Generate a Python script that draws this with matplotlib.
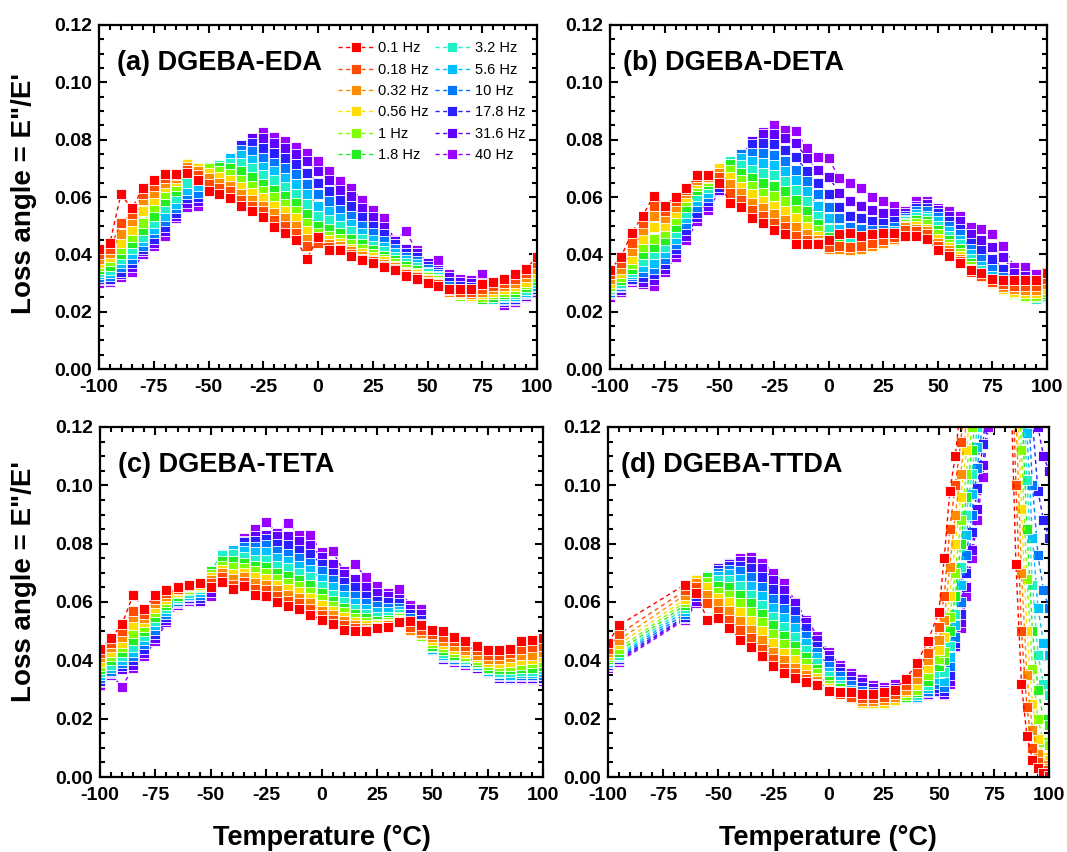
import matplotlib
matplotlib.use("Agg")
import matplotlib.pyplot as plt
import numpy as np
from matplotlib.ticker import MultipleLocator, FormatStrFormatter

plt.rcParams["font.family"] = ["Liberation Sans", "DejaVu Sans"]
plt.rcParams["font.weight"] = "bold"
plt.rcParams["axes.unicode_minus"] = False

freqs = ["0.1 Hz", "0.18 Hz", "0.32 Hz", "0.56 Hz", "1 Hz", "1.8 Hz",
         "3.2 Hz", "5.6 Hz", "10 Hz", "17.8 Hz", "31.6 Hz", "40 Hz"]
colors = ["#ff0000", "#ff4a00", "#ff8c00", "#ffdd00", "#80ff00", "#22ee22",
          "#20f0c8", "#00c0ff", "#0078ff", "#2a20ff", "#6000ff", "#9a00ff"]

temps = [-100, -95, -90, -85, -80, -75, -70, -65, -60, -55, -50, -45, -40,
         -35, -30, -25, -20, -15, -10, -5, 0, 5, 10, 15, 20, 25, 30, 35, 40,
         45, 50, 55, 60, 65, 70, 75, 80, 85, 90, 95, 100]

# loss angle x 1000, one row per temperature, one column per frequency
eda = [
    [42, 40, 38.5, 37, 36, 35, 34, 33, 32, 31.5, 31, 30],
    [44, 42, 40.5, 39, 37.5, 36, 34.5, 33.5, 32.5, 31.5, 31, 30.5],
    [61, 51, 47, 44, 42, 40, 38.5, 37, 35.5, 34, 33, 32],
    [56, 54, 51.5, 48.5, 46, 44, 42, 40, 38.5, 37, 35.5, 34],
    [63, 61, 59, 55, 51, 48.5, 46, 44.5, 43, 42, 41, 40],
    [66, 64, 61.5, 59, 56.5, 53.5, 51, 49, 47.5, 45.5, 44, 43],
    [68, 66.5, 65, 63.5, 61, 58.5, 56, 53.5, 51.5, 49.5, 48, 46.5],
    [68, 67.5, 66.5, 65.5, 64, 62, 59.5, 57.5, 56, 54.5, 53.5, 52.5],
    [68.5, 69.5, 70.5, 71.5, 72, 69, 65, 62.5, 61, 59.5, 58, 56.5],
    [66, 67.5, 69, 70, 70.5, 70, 67, 64, 61.5, 60, 58.5, 57],
    [62, 64.5, 66.5, 68.5, 70, 70.5, 70, 68, 66, 64.5, 63.5, 63],
    [61, 63, 65, 67, 69, 70.5, 71, 70.5, 69, 68, 67, 66],
    [59.5, 62, 64, 66, 68, 70, 72, 73.5, 73, 72, 71, 70.5],
    [57, 59, 61, 63.5, 66, 69, 72, 74.5, 76.5, 78, 77.5, 77],
    [55, 57, 59, 61.5, 64, 67, 70, 73, 76, 79, 80.5, 80],
    [53, 55, 57, 59.5, 62, 64.5, 67.5, 70.5, 73.5, 77, 80.5, 82.5],
    [49.5, 52, 54.5, 57, 60, 62.5, 66, 69, 72, 75.5, 79, 81],
    [47.5, 50, 52.5, 55, 57.5, 60.5, 63.5, 66.5, 70, 73.5, 77, 79.5],
    [45, 47.5, 50, 52.5, 55, 58, 61, 64.5, 68, 71.5, 75, 77.5],
    [38.5, 43, 45.5, 48, 51, 54, 57.5, 61, 64.5, 68.5, 72.5, 75.5],
    [46, 44, 44.5, 45.5, 47.5, 50, 53.5, 57, 61, 65, 69, 72.5],
    [41.5, 42.5, 43.5, 45, 46.5, 49, 52, 55, 58.5, 62, 66, 69],
    [41.5, 42, 43, 44, 45.5, 47.5, 50, 52.5, 55.5, 59, 62.5, 65.5],
    [39.5, 40, 41, 42, 43.5, 45.5, 48, 50.5, 53.5, 57, 60.5, 63],
    [38, 38.5, 39.5, 40.5, 42, 43.5, 45.5, 47.5, 50, 53, 56, 59],
    [37, 37.5, 38, 39, 40, 41.5, 43, 45, 47.5, 50, 53, 55.5],
    [35.5, 36, 36.5, 37.5, 38.5, 39.5, 41, 42.5, 44.5, 47, 49.5, 52.5],
    [34.5, 35, 35.5, 36, 37, 38, 39, 40.5, 42, 43.5, 44.5, 45],
    [32.5, 33, 33.5, 34, 35, 36, 37, 38, 39, 40.5, 42, 48],
    [31.5, 32, 32.5, 33, 33.5, 34.5, 35.5, 36.5, 37.5, 39, 40.5, 41.5],
    [30, 30.5, 31, 31.5, 32, 32.5, 33.5, 34, 35, 36, 37, 37],
    [29, 29.5, 30, 30.5, 31, 31.5, 32, 32.5, 33, 34, 34.5, 38],
    [28, 27.5, 27, 26.5, 26.5, 26.5, 27, 28, 29, 30.5, 32, 33],
    [28, 27, 26.5, 26, 25.5, 25.5, 26, 27, 28, 29, 30.5, 31.5],
    [28, 27, 26, 25.5, 25, 25, 25.5, 26.5, 27.5, 28.5, 30, 31],
    [29.5, 28, 27, 26, 25, 24.5, 24.5, 25, 26, 27.5, 30, 33],
    [30.5, 29, 28, 27, 26, 25, 24.5, 24.5, 25, 26, 27, 28],
    [31.5, 30, 29, 28, 27, 26, 25.5, 25, 24.5, 24, 23.5, 22.5],
    [33, 31.5, 30, 29, 28, 27, 26, 25.5, 25, 24.5, 24, 23.5],
    [35, 33.5, 32, 30.5, 29.5, 28.5, 27.5, 27, 26.5, 26, 25.5, 25],
    [39, 37, 35, 33.5, 32, 31, 30, 29, 28.5, 28, 27.5, 27],
]

deta = [
    [34.5, 33, 31.5, 30, 29, 28.5, 28, 27.5, 27, 26.5, 26, 25],
    [39, 37, 35, 33.5, 32, 31, 30, 29.5, 29, 28.5, 27.5, 27],
    [47.5, 44, 41, 38.5, 36.5, 35, 34, 33, 32.5, 31.5, 31, 30.5],
    [53.5, 51, 48.5, 45.5, 42.5, 40, 37.5, 35.5, 34, 32, 30.5, 29.5],
    [60.5, 57, 53.5, 49.5, 45.5, 42.5, 40, 37, 35, 33, 31, 29],
    [57, 55, 52.5, 50, 47.5, 45, 42.5, 40.5, 38.5, 36.5, 35, 34],
    [60, 58.5, 56.5, 54.5, 52, 49.5, 47.5, 45.5, 43.5, 42, 40.5, 39],
    [63, 62.5, 61.5, 60, 58.5, 56.5, 54.5, 52.5, 50.5, 48.5, 46.5, 45],
    [67.5, 67, 66, 65, 64, 62.5, 60.5, 58.5, 56.5, 54.5, 53, 51.5],
    [67.5, 67.5, 67, 66.5, 65.5, 64.5, 63, 61.5, 60, 58.5, 57, 55.5],
    [65, 67, 68.5, 70, 70, 69, 68, 66.5, 65, 63.5, 62.5, 62],
    [58, 61.5, 64.5, 67, 69.5, 71.5, 72.5, 72, 70.5, 69, 68, 67.5],
    [56.5, 59, 61.5, 63.5, 66, 68.5, 71, 73.5, 75, 74.5, 74, 73.5],
    [52.5, 55.5, 58, 61, 64, 66.5, 69.5, 72.5, 75.5, 78.5, 79.5, 79],
    [51, 53.5, 56, 58.5, 61.5, 65, 68.5, 72, 75.5, 79, 82, 82.5],
    [48.5, 51, 54, 57, 60.5, 64, 67.5, 71, 74.5, 78.5, 82, 85],
    [47, 49.5, 52, 55, 58.5, 62, 65.5, 69, 72.5, 76.5, 80.5, 83.5],
    [43.5, 46.5, 49.5, 52.5, 55.5, 59, 62.5, 66, 69.5, 74, 79, 83],
    [43.5, 45, 47, 49.5, 52, 55, 58.5, 62, 65.5, 69, 73.5, 77],
    [43.5, 44, 45, 46.5, 48.5, 50.5, 53.5, 57, 61, 65, 69.5, 74],
    [45, 42.5, 42, 42.5, 44, 46, 49, 52.5, 56.5, 61, 67, 73.5],
    [47, 43, 42, 41.5, 42, 43.5, 46, 49, 52.5, 56.5, 61.5, 66.5],
    [47.5, 42.5, 41.5, 41, 41, 42, 44, 46.5, 49.5, 53.5, 58.5, 65],
    [46.5, 43, 42, 41.5, 41.5, 42, 43.5, 46, 49, 52.5, 57, 63],
    [47, 44, 43, 42.5, 42.5, 43, 44, 46, 48.5, 51.5, 55.5, 60],
    [47.5, 45, 44, 43.5, 43.5, 44, 45, 46.5, 48.5, 51, 54.5, 58.5],
    [47.5, 46, 45.5, 45, 45, 45.5, 46.5, 48, 49.5, 51.5, 54.5, 57],
    [46.5, 48.5, 49.5, 50, 50.5, 51, 51.5, 52, 52.5, 53.5, 54.5, 55],
    [46.5, 48, 49, 50, 51, 52, 53, 54, 55, 56, 57, 58.5],
    [45.5, 47, 48, 49, 50.5, 51.5, 52.5, 53.5, 55, 56, 57.5, 58.5],
    [41.5, 43, 44, 45.5, 47, 48.5, 50, 51.5, 53, 54.5, 55.5, 56],
    [39.5, 40.5, 41.5, 42.5, 43.5, 45, 46.5, 48, 50, 51.5, 53.5, 55],
    [37, 37.5, 38.5, 39.5, 40.5, 42, 43.5, 45, 47, 49, 51.5, 53.5],
    [34.5, 34, 34.5, 35, 36, 37, 38.5, 40, 42, 44, 47, 49.5],
    [33.5, 32.5, 32, 32, 32.5, 33, 34.5, 36, 38.5, 41.5, 45, 49],
    [31.5, 30.5, 30, 29.5, 29.5, 30, 31, 32.5, 35, 38.5, 42.5, 47],
    [31, 29.5, 28.5, 28, 27.5, 27.5, 28.5, 30, 32, 35, 39, 43],
    [31, 29, 28, 27, 26.5, 26, 26.5, 27.5, 29, 31, 33.5, 35.5],
    [31, 29, 27.5, 26.5, 25.5, 25, 25, 25.5, 27, 29, 32.5, 35.5],
    [31, 29, 27.5, 26.5, 25.5, 25, 24.5, 24.5, 25.5, 27.5, 30.5, 33],
    [33.5, 31.5, 29.5, 28, 27, 26, 25.5, 25, 25, 25, 25.5, 26],
]

teta = [
    [44, 42.5, 41, 39.5, 38, 37, 36, 35, 34, 33, 32.5, 31.5],
    [47.5, 46, 44.5, 43, 41.5, 40, 38.5, 37.5, 36.5, 36, 35.5, 35],
    [52.5, 50, 48, 46, 44.5, 43, 41.5, 40, 39, 38, 37, 31],
    [62.5, 57, 55, 52, 49.5, 47, 44.5, 43, 41.5, 40, 38.5, 37.5],
    [57.5, 56, 54.5, 53, 51.5, 50, 48.5, 47, 45.5, 44, 42.5, 41.5],
    [62.5, 61, 59.5, 58, 56.5, 55, 53.5, 52, 50.5, 49, 47.5, 46.5],
    [64, 63, 62, 61, 60, 59, 58, 57, 56, 55, 54, 53],
    [65, 64.5, 64, 63.5, 63, 62, 61.5, 61, 60.5, 60, 59.5, 59],
    [66, 66, 65.5, 65, 64.5, 64, 63, 62.5, 62, 61.5, 61, 60.5],
    [66.5, 66.5, 66.5, 66, 65.5, 65, 64.5, 63.5, 62.5, 61.5, 60.5, 60],
    [65, 66.5, 67.5, 68.5, 69.5, 70.5, 71, 70, 68, 66, 63.5, 62],
    [67, 68.5, 70, 71, 72.5, 74, 76, 76.5, 75, 73, 71, 70],
    [64.5, 66, 68, 69.5, 72, 74, 76.5, 78, 78, 76.5, 74, 72],
    [65.5, 67, 68.5, 70, 71.5, 73.5, 75.5, 77.5, 79, 80.5, 81, 82],
    [62.5, 64.5, 66.5, 68.5, 70.5, 72.5, 74.5, 77, 79, 81, 82.5, 85],
    [62, 64, 66, 68, 70, 72, 74.5, 77, 79.5, 81.5, 83, 87.5],
    [60, 62, 64, 66, 68, 70, 72.5, 75, 77.5, 80, 82.5, 83.5],
    [58.5, 60.5, 62.5, 64.5, 66.5, 69, 71.5, 74, 76.5, 79.5, 82.5, 87],
    [57.5, 59.5, 61.5, 63.5, 65.5, 67.5, 70, 72.5, 75, 78, 81, 83],
    [55.5, 57.5, 59.5, 61.5, 63.5, 66, 68.5, 71, 73.5, 76.5, 79.5, 83],
    [54, 55.5, 57, 59, 61, 63, 65.5, 68, 70.5, 73, 75.5, 77],
    [52.5, 54, 55.5, 57, 58.5, 60.5, 62.5, 65, 67.5, 70, 73, 77.5],
    [50.5, 52, 53.5, 55, 56.5, 58, 60, 62, 64.5, 67, 69.5, 70.5],
    [50, 51, 52, 53, 54.5, 56, 57.5, 59.5, 62, 65, 68, 73],
    [50, 50.5, 51, 52, 53, 54.5, 56, 57.5, 59.5, 62, 65, 68.5],
    [51, 51, 51.5, 52, 52.5, 53.5, 55, 56.5, 58.5, 60.5, 63, 65.5],
    [51.5, 51.5, 52, 52.5, 53, 54, 55, 56.5, 58, 60, 62, 63],
    [53, 53, 53.5, 54, 54.5, 55, 56, 57, 58, 59.5, 61, 64.5],
    [53.5, 51.5, 50.5, 50, 50, 50.5, 51.5, 53, 54.5, 56, 57.5, 59],
    [52, 50.5, 49.5, 49, 48.5, 49, 50, 51, 52.5, 54, 56, 57.5],
    [50.5, 49, 48, 47, 46, 45, 44.5, 44, 43.5, 43.5, 43.5, 43.5],
    [50, 48, 46.5, 45.5, 44.5, 43.5, 42.5, 42, 41.5, 41, 40.5, 40.5],
    [48, 46.5, 45, 44, 43, 42, 41.5, 41, 40.5, 40, 40, 39.5],
    [46.5, 45, 43.5, 42.5, 41.5, 41, 40.5, 40, 39.5, 39, 39, 38.5],
    [45, 43.5, 42, 41, 40, 39.5, 39, 38.5, 38, 38, 37.5, 37.5],
    [43.5, 42, 40.5, 39.5, 38.5, 37.5, 37, 36.5, 36, 36, 35.5, 35.5],
    [43.5, 42, 40.5, 39, 38, 37, 36, 35.5, 35, 34.5, 34, 34],
    [44, 42.5, 41, 39.5, 38, 37, 36, 35, 34.5, 34, 34, 33.5],
    [46.5, 44, 42, 40, 38.5, 37.5, 36.5, 35.5, 35, 34.5, 34, 33.5],
    [47, 44.5, 42, 40.5, 39, 37.5, 36.5, 35.5, 35, 34.5, 34, 33.5],
    [47.5, 45, 43, 41, 39.5, 38, 37, 36, 35, 34, 33.5, 33],
]

# DGEBA-TTDA: no points between -95 and -65 C, denser steps through the
# glass transition; values above 0.12 run off the top of the axes
ttda_temps = [-100, -95, -65, -60, -55, -50, -45, -40, -35, -30, -25, -20,
              -15, -10, -5, 0, 5, 10, 15, 20, 25, 30, 35, 40, 45, 50,
              52.5, 55, 57.5, 60, 62.5, 65, 67.5, 70, 72.5, 75, 77.5, 80,
              82.5, 85, 87.5, 90, 92.5, 95, 97.5, 100]
ttda = [
    [46, 44, 43, 42, 41, 40.5, 40, 39.5, 39, 38.5, 38, 37.5],
    [52, 49, 47, 45.5, 44, 43, 42, 41.5, 41, 40.5, 40, 39.5],
    [66, 64, 62.5, 61, 60, 59, 58, 57, 56, 55, 54.5, 54],
    [63, 65, 66.5, 67.5, 68, 67.5, 66.5, 65, 63.5, 62, 60.5, 59.5],
    [54, 59.5, 62.5, 65, 67, 68.5, 69, 68.5, 67.5, 66, 64.5, 63.5],
    [54.5, 57, 59.5, 61.5, 63.5, 65.5, 67.5, 69, 70, 71, 71.5, 71.5],
    [51, 54, 57, 60, 62.5, 65, 67.5, 69.5, 71, 72.5, 73, 73.5],
    [47, 50.5, 53.5, 56.5, 59.5, 62.5, 65.5, 68, 70.5, 72.5, 74, 75],
    [44.5, 47.5, 50.5, 53.5, 56.5, 59.5, 62.5, 65.5, 68.5, 71.5, 74, 75.5],
    [41.5, 44, 47, 50, 53, 56, 59, 62, 65, 68.5, 71.5, 73.5],
    [38, 40.5, 43, 46, 49, 52, 55, 58, 61, 64.5, 67.5, 70],
    [35.5, 37.5, 40, 42.5, 45.5, 48.5, 51.5, 54.5, 57.5, 61, 64, 66.5],
    [34, 35.5, 37.5, 40, 42.5, 45, 48, 51, 54, 57, 59.5, 60],
    [32.5, 33.5, 35, 37, 39, 41, 43.5, 46, 48.5, 51, 53, 54],
    [31.5, 32, 33, 34, 35.5, 37, 39, 41, 43, 45, 47, 48.5],
    [29.5, 29.5, 30, 30.5, 31.5, 33, 34.5, 36, 38, 40, 42, 43],
    [29, 28.5, 28.5, 29, 29.5, 30.5, 31.5, 33, 34.5, 36, 37.5, 38.5],
    [29, 27.5, 27, 27, 27.5, 28, 29, 30, 31.5, 33, 34.5, 35.5],
    [28.5, 27, 26, 25.5, 25.5, 26, 27, 28, 29.5, 31, 32.5, 33.5],
    [28.5, 27, 26, 25.5, 25, 25, 25.5, 26.5, 27.5, 29, 30.5, 31.5],
    [29, 27.5, 26.5, 25.5, 25, 25, 25.5, 26, 27, 28.5, 30, 31],
    [30, 28.5, 27.5, 26.5, 26, 26, 26, 26.5, 27.5, 29, 30.5, 32],
    [33.5, 31.5, 30, 29, 28, 27.5, 27, 27, 27.5, 28.5, 30, 31.5],
    [39, 36, 33.5, 31.5, 30, 29, 28, 27.5, 27, 27, 27.5, 28],
    [46.5, 42.5, 40, 37.5, 35, 33, 31.5, 30.5, 29.5, 29, 28.5, 28],
    [56.5, 51.5, 47, 43.5, 40.5, 38, 35.5, 33.5, 32, 30.5, 29.5, 29],
    [75, 62, 54, 48, 43, 40, 36, 33, 31, 29.5, 28.5, 28],
    [98, 85, 72, 62, 55, 50, 45, 41, 38, 35, 33, 32],
    [110, 100, 90, 80, 70, 62, 56, 52, 48, 46, 45, 44.7],
    [128, 115, 104, 96, 88, 80, 72, 66, 60, 56, 53, 51],
    [150, 135, 122, 112, 104, 96, 90, 83, 76, 70, 65, 62],
    [165, 150, 140, 130, 120, 112, 104, 97, 90, 84, 78, 75],
    [175, 165, 155, 145, 136, 128, 120, 113, 106, 99, 92, 88],
    [180, 175, 168, 160, 152, 145, 138, 130, 122, 114, 107, 103],
    [180, 180, 178, 172, 165, 160, 154, 148, 140, 132, 125, 120],
    [175, 180, 180, 180, 175, 172, 168, 163, 158, 150, 145, 140],
    [165, 175, 180, 185, 185, 182, 180, 177, 173, 168, 163, 160],
    [155, 170, 178, 185, 188, 190, 190, 188, 185, 182, 180, 178],
    [140, 160, 175, 185, 190, 195, 195, 195, 195, 195, 195, 195],
    [73, 100, 125, 145, 160, 172, 180, 185, 190, 192, 195, 195],
    [32, 50, 70, 92, 112, 130, 145, 158, 170, 180, 188, 192],
    [14, 24, 35, 50, 68, 85, 102, 118, 135, 152, 168, 178],
    [6, 10, 16, 25, 37, 50, 66, 82, 100, 122, 142, 158],
    [3, 5, 8, 13, 20, 30, 42, 58, 76, 98, 120, 138],
    [1.5, 2.5, 4, 7, 12, 20, 32, 46, 64, 88, 110, 128],
    [0.5, 1.5, 3, 6, 11, 18, 28, 42, 58, 82, 105, 122],
]

panels = [
    ("(a) DGEBA-EDA", temps, eda),
    ("(b) DGEBA-DETA", temps, deta),
    ("(c) DGEBA-TETA", temps, teta),
    ("(d) DGEBA-TTDA", ttda_temps, ttda),
]

fig = plt.figure(figsize=(10.67, 8.52), dpi=100)
W, H = 1067, 852
boxes = [(99, 25, 537, 369), (610, 25, 1047, 369),
         (100, 427, 543, 777), (608, 427, 1049, 777)]

for n, ((title, T, table), (x0, y0, x1, y1)) in enumerate(zip(panels, boxes)):
    ax = fig.add_axes([x0 / W, 1 - y1 / H, (x1 - x0) / W, (y1 - y0) / H])
    vals = np.array(table, dtype=float).T / 1000
    handles = [None] * len(freqs)
    # low frequencies drawn last so the red squares sit on top
    for i in reversed(range(len(freqs))):
        (h,) = ax.plot(T, vals[i], ls=(0, (3, 2.5)), lw=1.0, color=colors[i],
                       marker="s", ms=7.8, mec="white", mew=0.6, label=freqs[i])
        handles[i] = h
    ax.set_xlim(-100, 100)
    ax.set_ylim(0, 0.12)
    ax.xaxis.set_major_locator(MultipleLocator(25))
    ax.xaxis.set_minor_locator(MultipleLocator(5))
    ax.yaxis.set_major_locator(MultipleLocator(0.02))
    ax.yaxis.set_minor_locator(MultipleLocator(0.005))
    ax.yaxis.set_major_formatter(FormatStrFormatter("%.2f"))
    ax.tick_params(which="both", direction="in", top=True, right=True, width=1.5)
    ax.tick_params(which="major", length=6, labelsize=14)
    ax.tick_params(which="minor", length=3.5)
    ax.tick_params(axis="x", pad=7.5)
    ax.tick_params(axis="y", pad=5)
    for s in ax.spines.values():
        s.set_linewidth(1.6)
    dx = 13 if n % 2 == 0 else 9.5
    ax.annotate(title, xy=(0, 1), xycoords="axes fraction", xytext=(dx, -27.5),
                textcoords="offset points", ha="left", va="center",
                fontsize=19.5, fontweight="bold")
    if n == 0:
        ax.legend(handles=handles, ncol=2, frameon=False, loc="upper left",
                  bbox_to_anchor=(0.546, 0.953), borderpad=0, borderaxespad=0,
                  prop={"weight": "normal", "size": 10.5},
                  handlelength=2.4, handletextpad=0.35, columnspacing=0.4,
                  labelspacing=0.51, markerscale=0.95)

ylab = 'Loss angle = E"/E\''
fig.text(24 / W, 1 - 194 / H, ylab, rotation=90, ha="center", va="center",
         fontsize=20, fontweight="bold")
fig.text(24 / W, 1 - 582 / H, ylab, rotation=90, ha="center", va="center",
         fontsize=20, fontweight="bold")
fig.text(322 / W, 1 - 838 / H, "Temperature (°C)", ha="center", va="center",
         fontsize=19.5, fontweight="bold")
fig.text(828 / W, 1 - 838 / H, "Temperature (°C)", ha="center", va="center",
         fontsize=19.5, fontweight="bold")

fig.savefig("out.png", dpi=100)
